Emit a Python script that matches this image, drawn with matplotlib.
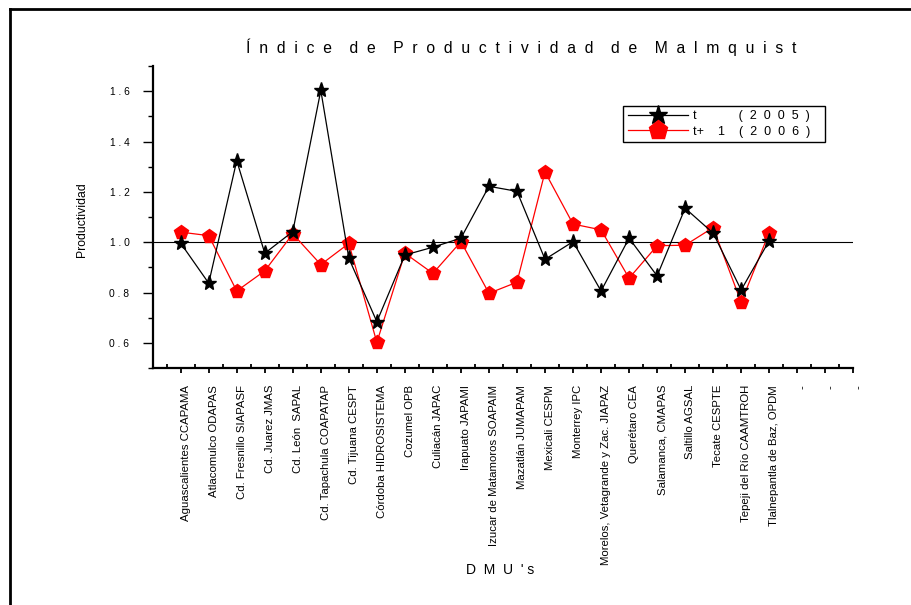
import matplotlib.pyplot as plt
import numpy as np
from matplotlib.lines import Line2D
from matplotlib.ticker import MultipleLocator
from matplotlib.transforms import ScaledTranslation

plt.rcParams['font.family'] = ['Liberation Sans', 'DejaVu Sans']

dmus = ['Aguascalientes CCAPAMA', 'Atlacomulco ODAPAS', 'Cd. Fresnillo SIAPASF',
        'Cd. Juarez JMAS', 'Cd. León  SAPAL', 'Cd. Tapachula COAPATAP',
        'Cd. Tijuana CESPT', 'Córdoba HIDROSISTEMA', 'Cozumel OPB',
        'Culiacán JAPAC', 'Irapuato JAPAMI', 'Izucar de Matamoros SOAPAIM',
        'Mazatlán JUMAPAM', 'Mexicali CESPM', 'Monterrey IPC',
        'Morelos, Vetagrande y Zac. JIAPAZ', 'Querétaro CEA', 'Salamanca, CMAPAS',
        'Saltillo AGSAL', 'Tecate CESPTE', 'Tepeji del Río CAAMTROH',
        'Tlalnepantla de Baz, OPDM', '-', '-', '-']

t_2005 = [0.996, 0.837, 1.324, 0.956, 1.042, 1.603, 0.936, 0.684, 0.949, 0.980,
          1.016, 1.222, 1.202, 0.932, 1.002, 0.806, 1.016, 0.866, 1.135, 1.036,
          0.810, 1.006]
t1_2006 = [1.040, 1.026, 0.806, 0.886, 1.033, 0.911, 0.995, 0.602, 0.956, 0.876,
           1.002, 0.797, 0.841, 1.279, 1.072, 1.049, 0.857, 0.986, 0.988, 1.058,
           0.761, 1.038]

yticks = [0.6, 0.8, 1.0, 1.2, 1.4, 1.6]


def spaced(s, gap=' '):
    return gap.join(s)


fig = plt.figure(figsize=(9.12, 6.05), dpi=100)
ax = fig.add_axes([0.1674, 0.3917, 0.7682, 0.4992])

x = np.arange(len(t_2005))
ax.axhline(1.0, color='black', lw=0.8, zorder=1)
ax.plot(x, t_2005, color='black', lw=0.9, marker='*', ms=11,
        markerfacecolor='black', markeredgecolor='black', zorder=3,
        label='t' + ' ' * 12 + spaced('(2005)', '  ') + '   ')
ax.plot(x, t1_2006, color='red', lw=0.9, marker='p', ms=10,
        markerfacecolor='red', markeredgecolor='red', zorder=2,
        label='t+    1    ' + spaced('(2006)', '  ') + '   ')

ax.set_xlim(-1, 24)
ax.set_ylim(0.5, 1.7)
for s in ['top', 'right']:
    ax.spines[s].set_visible(False)
ax.spines['left'].set_linewidth(1.6)
ax.spines['bottom'].set_linewidth(1.6)

ax.set_xticks(np.arange(len(dmus)))
ax.set_xticklabels(dmus, rotation=90, fontsize=8.2)
ax.set_xticks(np.arange(-0.5, 24, 1.0), minor=True)
ax.tick_params(axis='x', which='major', direction='out', length=3.6, width=1.3, pad=8.6)
ax.tick_params(axis='x', which='minor', direction='in', length=3, width=1.3)
for lab in ax.get_xticklabels():
    lab.set_transform(lab.get_transform() + ScaledTranslation(5 / 100, 0, fig.dpi_scale_trans))

ax.set_yticks(yticks)
ax.set_yticklabels([spaced(f'{v:.1f}') for v in yticks], fontsize=7.4)
ax.yaxis.set_minor_locator(MultipleLocator(0.1))
ax.tick_params(axis='y', which='major', direction='out', length=7.2, width=1.0, pad=9.5)
ax.tick_params(axis='y', which='minor', direction='out', length=3.6, width=1.0)

fig.text(82 / 912, 1 - 220 / 605, 'Productividad', rotation=90,
         ha='center', va='center', fontsize=8.8)
fig.text(500 / 912, 1 - 570 / 605, 'D  M  U  \' s', ha='center', va='center', fontsize=10)

title = '    '.join(spaced(w, '  ') for w in ['Índice', 'de', 'Productividad', 'de', 'Malmquist'])
fig.text(521 / 912, 1 - 47 / 605, title, ha='center', va='center', fontsize=11.3)

leg = ax.legend(loc='upper left', bbox_to_anchor=(0.6717, 0.8685), fontsize=9,
                frameon=True, fancybox=False, edgecolor='black', framealpha=1,
                handlelength=4.8, borderpad=0.35, labelspacing=0.3,
                handletextpad=0.4, borderaxespad=0)
leg.get_frame().set_linewidth(1.0)
leg.legend_handles[0].set_markersize(14)
leg.legend_handles[1].set_markersize(14)

# outer frame
fig.add_artist(Line2D([10 / 912, 10 / 912], [0, 1 - 9 / 605], color='black', lw=2))
fig.add_artist(Line2D([10 / 912, 1], [1 - 9 / 605, 1 - 9 / 605], color='black', lw=2))

fig.savefig('out.png', dpi=100)
